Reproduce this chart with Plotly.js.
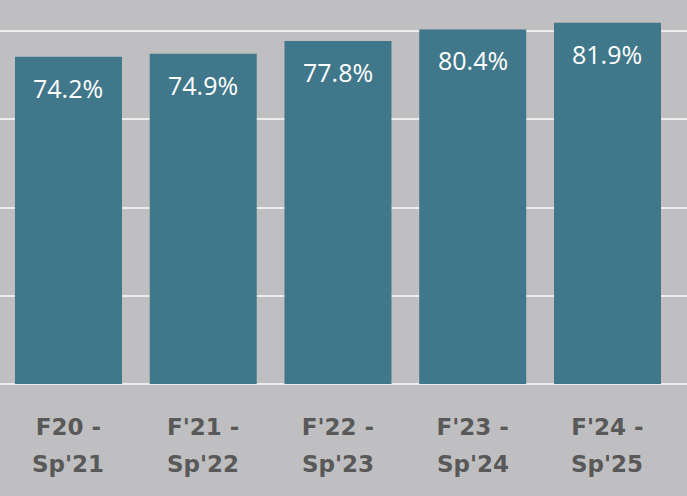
<!DOCTYPE html>
<html>
<head>
<meta charset="utf-8">
<script src="https://cdn.plot.ly/plotly-3.0.1.min.js"></script>
<style>html,body{margin:0;padding:0;background:#bfbfc1;}#chart{width:687px;height:496px;}</style>
</head>
<body>
<div id="chart"></div>
<script>
var categories = ["F20 - Sp'21", "F'21 - Sp'22", "F'22 - Sp'23", "F'23 - Sp'24", "F'24 - Sp'25"];
var tickLine1 = ["F20 -", "F'21 -", "F'22 -", "F'23 -", "F'24 -"];
var tickLine2 = ["Sp'21", "Sp'22", "Sp'23", "Sp'24", "Sp'25"];
var values = [74.2, 74.9, 77.8, 80.4, 81.9];
var labels = ["74.2%", "74.9%", "77.8%", "80.4%", "81.9%"];
var gridVals = [0, 20, 40, 60, 80];

var FONT = "'Open Sans', 'Noto Sans', sans-serif";
var TICKFONT = "'DejaVu Sans', 'Open Sans', sans-serif";
var trace = {
  type: 'bar',
  x: categories,
  y: values,
  marker: {color: '#41778a'},
  hoverinfo: 'none'
};

var annotations = [];
for (var i = 0; i < categories.length; i++) {
  annotations.push({
    x: categories[i], y: values[i], xref: 'x', yref: 'y',
    text: labels[i], showarrow: false, yanchor: 'top', yshift: -12,
    font: {family: FONT, size: 25, color: '#ffffff'}
  });
  annotations.push({
    x: categories[i], y: 0, xref: 'x', yref: 'paper',
    text: '<b>' + tickLine2[i] + '</b>', showarrow: false, yanchor: 'top', yshift: -65,
    font: {family: TICKFONT, size: 23, color: '#595959'}
  });
}

var layout = {
  width: 687, height: 496,
  margin: {l: 0, r: 0, t: 0, b: 112},
  paper_bgcolor: '#bfbfc1',
  plot_bgcolor: '#bfbfc1',
  bargap: 0.206,
  showlegend: false,
  xaxis: {
    type: 'category',
    range: [-0.508, 4.59],
    tickvals: categories,
    ticktext: tickLine1.map(function (t) { return '<b>' + t + '</b>'; }),
    tickfont: {family: TICKFONT, size: 23, color: '#595959'},
    ticks: 'outside', ticklen: 22, tickcolor: 'rgba(0,0,0,0)',
    showgrid: false, showline: false, zeroline: false, fixedrange: true
  },
  yaxis: {
    range: [0, 87.07],
    tickvals: gridVals,
    showticklabels: false,
    showgrid: true, gridcolor: '#ececec', gridwidth: 2,
    zeroline: true, zerolinecolor: '#ececec', zerolinewidth: 2,
    showline: false, fixedrange: true
  },
  annotations: annotations
};

Plotly.newPlot('chart', [trace], layout, {displayModeBar: false, staticPlot: true});
</script>
</body>
</html>
